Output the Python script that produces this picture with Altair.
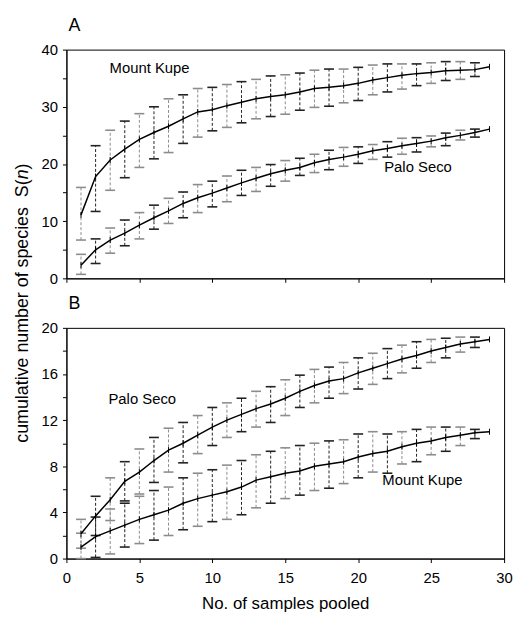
import altair as alt
import pandas as pd

FONT = "Liberation Sans"

n_line = list(range(1, 30))
n_bar = list(range(1, 29))

# Panel A
a_kupe_mean = [11.1, 17.8, 20.7, 22.6, 24.3, 25.5, 26.6, 27.9, 29.1, 29.5, 30.2, 30.8, 31.4, 31.8, 32.1,
               32.6, 33.2, 33.4, 33.7, 34.1, 34.7, 35.1, 35.5, 35.8, 36.0, 36.3, 36.4, 36.5, 37.0]
a_kupe_upper = [15.9, 23.2, 25.9, 27.5, 28.8, 30.0, 31.4, 32.1, 33.2, 33.4, 33.9, 34.4, 34.8, 35.4,
                35.6, 35.9, 36.4, 36.6, 36.6, 36.9, 37.3, 37.5, 37.5, 37.5, 37.7, 37.9, 37.9, 37.7]
a_kupe_lower = [6.7, 11.7, 15.4, 17.6, 19.4, 20.9, 22.0, 23.6, 24.7, 25.8, 26.4, 27.2, 27.9, 28.3,
                28.7, 29.4, 29.9, 30.1, 30.7, 31.1, 32.1, 32.6, 33.1, 33.7, 34.1, 34.6, 34.8, 35.3]

a_palo_mean = [2.3, 5.0, 6.7, 7.9, 9.3, 10.6, 11.8, 13.1, 14.1, 14.9, 15.8, 16.7, 17.5, 18.3, 18.9,
               19.4, 20.2, 20.8, 21.2, 21.7, 22.3, 22.7, 23.2, 23.6, 24.0, 24.6, 25.0, 25.5, 26.1]
a_palo_upper = [4.2, 6.9, 8.8, 10.2, 11.5, 12.8, 14.0, 15.1, 16.4, 17.0, 17.9, 18.9, 19.4, 19.9,
                20.6, 21.0, 21.7, 22.4, 22.9, 23.0, 23.4, 23.9, 24.5, 24.6, 24.9, 25.4, 25.9, 26.1]
a_palo_lower = [0.7, 2.6, 4.4, 5.7, 6.9, 8.6, 9.6, 10.6, 11.5, 12.5, 13.4, 14.5, 15.2, 16.1,
                17.0, 18.0, 18.5, 19.0, 19.6, 20.1, 20.8, 21.2, 21.7, 22.1, 23.0, 23.2, 24.2, 24.7]

# Panel B
b_palo_mean = [2.15, 3.7, 5.1, 6.7, 7.5, 8.5, 9.4, 10.0, 10.7, 11.4, 12.0, 12.5, 13.0, 13.4, 13.9,
               14.5, 15.0, 15.4, 15.6, 16.1, 16.5, 16.9, 17.3, 17.6, 18.0, 18.3, 18.6, 18.8, 19.0]
b_palo_upper = [3.4, 5.4, 7.0, 8.4, 9.5, 10.5, 11.3, 11.8, 12.4, 13.1, 13.5, 13.9, 14.5, 14.9,
                15.5, 15.9, 16.4, 16.6, 17.0, 17.4, 17.8, 18.2, 18.5, 18.8, 19.0, 19.1, 19.2, 19.2]
b_palo_lower = [0.9, 2.0, 3.3, 5.0, 5.6, 6.6, 7.5, 8.3, 9.1, 9.8, 10.5, 11.0, 11.4, 11.8,
                12.4, 13.1, 13.5, 13.9, 14.3, 14.7, 15.1, 15.6, 16.1, 16.5, 17.0, 17.4, 17.9, 18.3]

b_kupe_mean = [1.0, 1.9, 2.4, 2.9, 3.4, 3.8, 4.2, 4.8, 5.2, 5.5, 5.8, 6.2, 6.8, 7.1, 7.4,
               7.6, 8.0, 8.2, 8.4, 8.8, 9.1, 9.3, 9.7, 10.0, 10.2, 10.5, 10.7, 10.9, 11.0]
b_kupe_upper = [2.2, 3.6, 4.3, 4.8, 5.4, 5.9, 6.2, 7.0, 7.4, 7.7, 8.1, 8.5, 9.0, 9.3,
                9.6, 9.8, 10.0, 10.2, 10.3, 10.8, 11.0, 10.8, 11.0, 11.2, 11.4, 11.4, 11.4, 11.2]
b_kupe_lower = [0.0, 0.1, 0.4, 1.0, 1.3, 1.6, 2.0, 2.5, 2.8, 3.2, 3.4, 3.8, 4.4, 4.8,
                5.2, 5.5, 5.9, 6.1, 6.5, 7.0, 7.5, 7.4, 8.2, 8.4, 9.0, 9.3, 9.8, 10.4]

# Labels: (text, x, y)
a_labels = [("Mount Kupe", 5.7, 36.7), ("Palo Seco", 24.1, 19.4)]
b_labels = [("Palo Seco", 5.2, 13.8), ("Mount Kupe", 24.4, 6.8)]

W = 442
HA = 231
HB = 233


def means_df(kupe, palo):
    return pd.concat([
        pd.DataFrame({"n": n_line, "mean": kupe, "site": "Mount Kupe"}),
        pd.DataFrame({"n": n_line, "mean": palo, "site": "Palo Seco"}),
    ])


def bars_df(ku, kl, pu, pl):
    return pd.concat([
        pd.DataFrame({"n": n_bar, "upper": ku, "lower": kl, "site": "Mount Kupe"}),
        pd.DataFrame({"n": n_bar, "upper": pu, "lower": pl, "site": "Palo Seco"}),
    ])


def panel(dm, db, labels, ymax, ystep, lstep, h, letter, show_x):
    xscale = alt.Scale(domain=[0, 30], nice=False, zero=False)
    yscale = alt.Scale(domain=[0, ymax], nice=False)
    xaxis = alt.Axis(values=list(range(0, 31, 5)), labels=show_x, grid=False,
                     title="No. of samples pooled" if show_x else None,
                     tickSize=4, labelPadding=8, titlePadding=10, labelFlush=False)
    yaxis = alt.Axis(values=list(range(0, ymax + 1, ystep)),
                     labelExpr=f"datum.value % {lstep} == 0 ? datum.label : ''",
                     title=None, grid=False, tickSize=4, labelPadding=5, labelFlush=False)

    def X(f):
        return alt.X(f, scale=xscale, axis=xaxis)

    def Y(f):
        return alt.Y(f, scale=yscale, axis=yaxis)

    col = alt.condition("datum.n % 2 == 0", alt.value("#222222"), alt.value("#8c8c8c"))
    base_b = alt.Chart(db)
    bars = base_b.mark_rule(strokeDash=[3, 2], strokeWidth=1).encode(
        x=X("n:Q"), y=Y("lower:Q"), y2="upper:Q", color=col)
    cap_t = base_b.mark_rule(xOffset=-5, x2Offset=5, strokeWidth=1.6).encode(
        x=X("n:Q"), x2="n:Q", y=Y("upper:Q"), color=col)
    cap_b = base_b.mark_rule(xOffset=-5, x2Offset=5, strokeWidth=1.6).encode(
        x=X("n:Q"), x2="n:Q", y=Y("lower:Q"), color=col)
    base_m = alt.Chart(dm)
    line = base_m.mark_line(color="black", strokeWidth=1.5).encode(
        x=X("n:Q"), y=Y("mean:Q"), detail="site:N")
    marks = base_m.mark_rule(yOffset=-3, y2Offset=3, color="black", strokeWidth=1).encode(
        x=X("n:Q"), y=Y("mean:Q"), y2="mean:Q")
    ldf = pd.DataFrame(labels, columns=["label", "lx", "ly"])
    txt = alt.Chart(ldf).mark_text(font=FONT, fontSize=15, color="black").encode(
        x=X("lx:Q"), y=Y("ly:Q"), text="label:N")
    layers = [bars, cap_t, cap_b, line, marks, txt]
    return alt.layer(*layers).properties(
        width=W, height=h,
        title=alt.TitleParams(letter, anchor="start", frame="group", fontSize=18, font=FONT,
                              fontWeight="normal", offset=8, dx=2))


pA = panel(means_df(a_kupe_mean, a_palo_mean),
           bars_df(a_kupe_upper, a_kupe_lower, a_palo_upper, a_palo_lower),
           a_labels, 40, 5, 10, HA, "A", False)

Y0 = 159
TX = -44
ytitle = [
    alt.Chart(pd.DataFrame({"t": ["cumulative number of species"]})).mark_text(
        font=FONT, fontSize=18, angle=270, align="right", baseline="middle").encode(
        x=alt.value(TX), y=alt.value(Y0), text="t:N"),
    alt.Chart(pd.DataFrame({"t": ["S("]})).mark_text(
        font=FONT, fontSize=18, angle=270, align="left", baseline="middle").encode(
        x=alt.value(TX), y=alt.value(Y0 - 10), text="t:N"),
    alt.Chart(pd.DataFrame({"t": ["n"]})).mark_text(
        font=FONT, fontSize=18, angle=270, align="left", baseline="middle", fontStyle="italic").encode(
        x=alt.value(TX), y=alt.value(Y0 - 28), text="t:N"),
    alt.Chart(pd.DataFrame({"t": [")"]})).mark_text(
        font=FONT, fontSize=18, angle=270, align="left", baseline="middle").encode(
        x=alt.value(TX), y=alt.value(Y0 - 38), text="t:N"),
]
pA = alt.layer(pA, *ytitle)

pB = panel(means_df(b_kupe_mean, b_palo_mean),
           bars_df(b_kupe_upper, b_kupe_lower, b_palo_upper, b_palo_lower),
           b_labels, 20, 2, 4, HB, "B", True)

chart = alt.vconcat(pA, pB, spacing=50, bounds="flush").configure_view(
    stroke="black", strokeWidth=1
).configure_axis(
    domainColor="black", tickColor="black", labelColor="black", titleColor="black",
    labelFont=FONT, titleFont=FONT, labelFontSize=15, titleFontSize=17,
    titleFontWeight="normal"
).properties(padding={"left": 5, "top": 5, "right": 0, "bottom": 5})

chart.save("out.html", embed_options={"renderer": "svg", "actions": False})
